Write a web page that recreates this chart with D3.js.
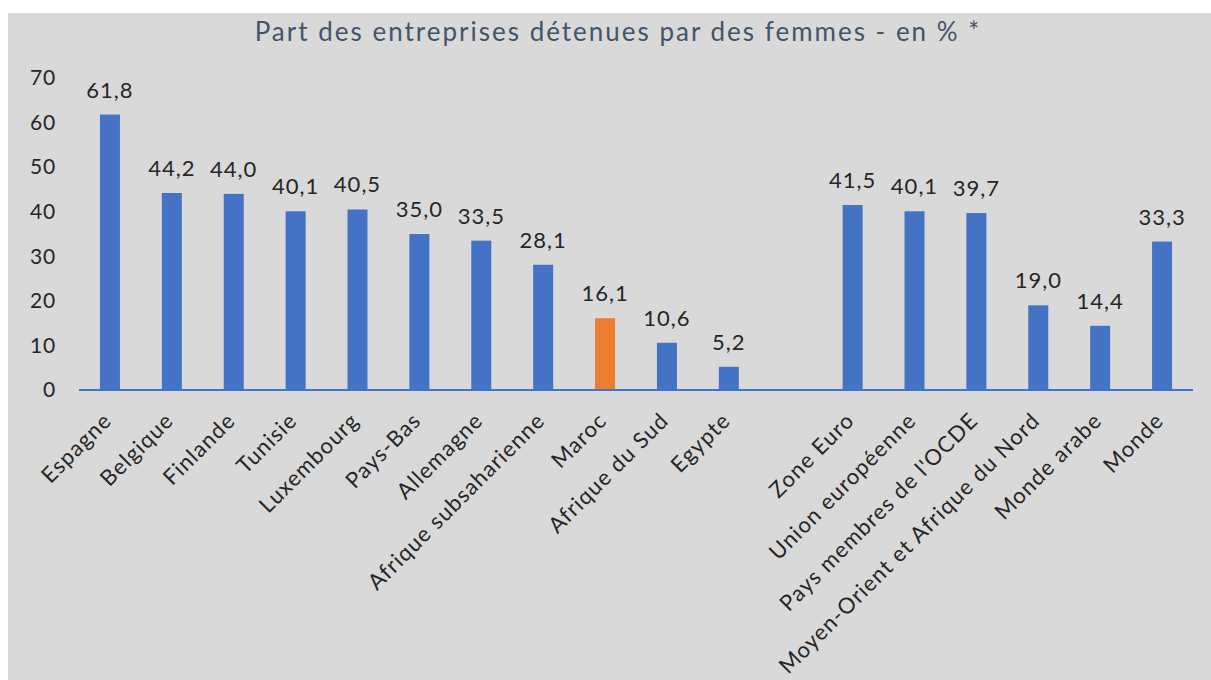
<!DOCTYPE html>
<html><head><meta charset="utf-8">
<script src="https://cdn.jsdelivr.net/npm/d3@7"></script>
<style>
html,body{margin:0;padding:0;background:#fff;}
text{font-family:Lato,"Open Sans",sans-serif;}
</style></head>
<body>
<svg id="chart" width="1211" height="680"></svg>
<script>
const categories = ["Espagne","Belgique","Finlande","Tunisie","Luxembourg","Pays-Bas","Allemagne","Afrique subsaharienne","Maroc","Afrique du Sud","Egypte","","Zone Euro","Union européenne","Pays membres de l'OCDE","Moyen-Orient et Afrique du Nord","Monde arabe","Monde"];
const values = [61.8,44.2,44.0,40.1,40.5,35.0,33.5,28.1,16.1,10.6,5.2,null,41.5,40.1,39.7,19.0,14.4,33.3];
const highlight = ["Maroc"];
const yTicks = [0,10,20,30,40,50,60,70];
const title = "Part des entreprises détenues par des femmes - en % *";

const svg = d3.select("#chart");
svg.append("rect").attr("x",8).attr("y",13).attr("width",1203).attr("height",667).attr("fill","#d9d9d9");

const x0 = 79, x1 = 1193, yBase = 390;
const x = d3.scaleBand().domain(categories.map((c,i)=>i)).range([x0,x1]).paddingInner(0.677).paddingOuter(0.3385);
const y = d3.scaleLinear().domain([0,70]).range([yBase, yBase-312]);

const data = categories.map((c,i)=>({c,i,v:values[i]}));

// title
svg.append("text").attr("x",618).attr("y",41).attr("text-anchor","middle")
  .attr("font-size",26).attr("fill","#44546a").attr("letter-spacing","2px").text(title);

// y axis
const yAxis = d3.axisLeft(y).tickValues(yTicks).tickSize(0).tickPadding(0);
const gy = svg.append("g").attr("transform","translate(56,0)").call(yAxis);
gy.select(".domain").remove();
gy.selectAll("text").attr("font-size",21).attr("fill","#262626").attr("font-family","Lato").attr("letter-spacing","0.8px");

// bars
const bars = data.filter(d=>d.v!=null);
svg.append("g").selectAll("rect").data(bars).join("rect")
  .attr("x",d=>x(d.i)).attr("width",x.bandwidth())
  .attr("y",d=>y(d.v)).attr("height",d=>yBase-y(d.v))
  .attr("fill",d=>highlight.includes(d.c)?"#ed7d31":"#4472c4");

// value labels
svg.append("g").selectAll("text").data(bars).join("text")
  .attr("x",d=>x(d.i)+x.bandwidth()/2).attr("y",d=>y(d.v)-17)
  .attr("text-anchor","middle").attr("font-size",22).attr("fill","#262626")
  .attr("letter-spacing","1px")
  .text(d=>d3.format(".1f")(d.v).replace(".",","));

// x axis
const xAxis = d3.axisBottom(x).tickSize(0).tickFormat(i=>categories[i]);
const gx = svg.append("g").attr("transform",`translate(0,${yBase})`).call(xAxis);
gx.select(".domain").attr("stroke","#4472c4").attr("stroke-width",2).attr("d",`M${x0},0H${x1}`);
gx.selectAll("text").attr("font-size",22).attr("fill","#262626").attr("font-family","Lato")
  .attr("letter-spacing","1.1px")
  .attr("text-anchor","end").attr("dy",null).attr("y",0)
  .attr("transform","translate(3,32) rotate(-45)");
</script>
</body></html>
